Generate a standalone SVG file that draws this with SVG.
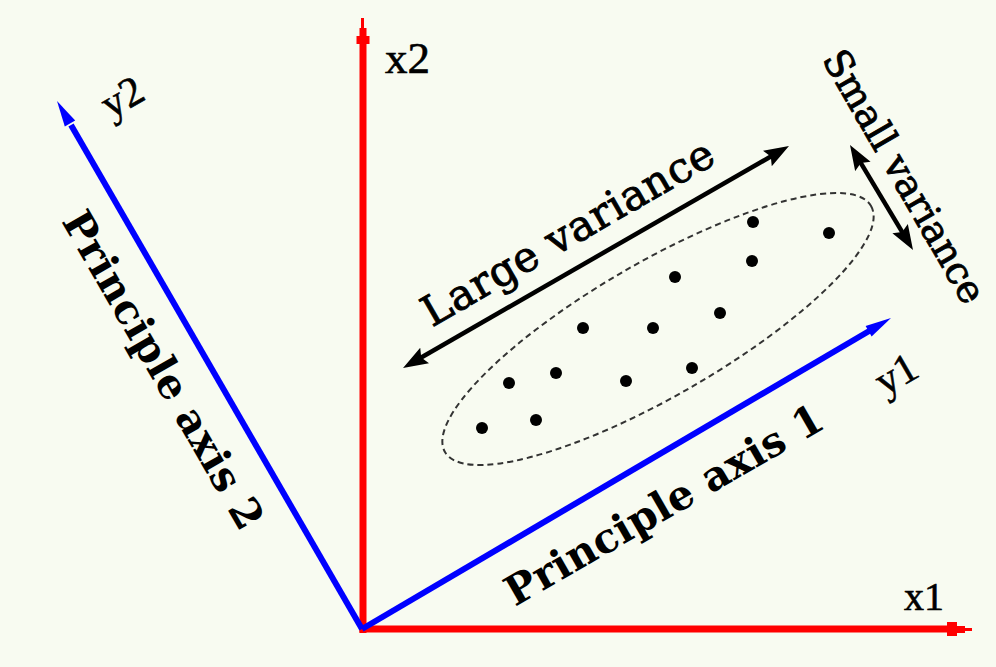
<svg xmlns="http://www.w3.org/2000/svg" width="996" height="667" viewBox="0 0 996 667">
<style>
.axlbl{font-family:"Liberation Serif","Times New Roman",serif;fill:#000;stroke:#000;stroke-width:0.6}
.lbl{font-family:"DejaVu Serif","Liberation Serif",serif;fill:#000}
.reg{stroke:#000;stroke-width:0.9}
.bold{font-weight:bold}
.red{fill:#ff0000}
.blue{fill:#0000ff}
.dot{fill:#000}
</style>
<defs>
<marker id="ah" markerUnits="userSpaceOnUse" markerWidth="26" markerHeight="20" refX="12" refY="9" orient="auto-start-reverse" viewBox="0 0 26 18">
<path d="M0,0 L25,9 L0,18 L4,9 z" fill="#000"/>
</marker>
</defs>
<rect x="0" y="0" width="996" height="667" fill="#f8fbf1"/>

<g id="axis-x2">
<rect class="red" x="359.5" y="44" width="7" height="589"/>
<polygon class="red" points="361,18 364,18 364,28 366.5,28 366.5,36 369.5,36 369.5,44 356.5,44 356.5,36 359.5,36 359.5,28 361,28"/>
<text class="axlbl" x="385" y="73" font-size="45">x2</text>
</g>

<g id="axis-x1">
<rect class="red" x="359.5" y="625.5" width="588" height="7"/>
<polygon class="red" points="947,622 957,622 957,626 965,626 965,628 972,628 972,631 965,631 965,633 957,633 957,636 947,636"/>
<text class="axlbl" x="904" y="610" font-size="40">x1</text>
</g>

<g id="axis-y2">
<line x1="362" y1="629" x2="71" y2="125" stroke="#0000ff" stroke-width="6"/>
<polygon class="blue" points="57,101 75.2,120.5 64.8,126.5"/>
<text class="axlbl" font-size="42" text-anchor="middle" transform="translate(129,109) rotate(-30)">y2</text>
</g>

<g id="axis-y1">
<line x1="362" y1="629" x2="870" y2="330.5" stroke="#0000ff" stroke-width="6"/>
<polygon class="blue" points="891,318 871.6,336.4 865.6,326"/>
<text class="axlbl" font-size="42" text-anchor="middle" transform="translate(903,386) rotate(-30)">y1</text>
</g>

<g id="label-pa2">
<text class="lbl bold" font-size="41" text-anchor="middle" textLength="360" transform="translate(151,377) rotate(60)">Principle axis 2</text>
</g>

<g id="label-pa1">
<text class="lbl bold" font-size="41" text-anchor="middle" textLength="360" transform="translate(671,517) rotate(-30)">Principle axis 1</text>
</g>

<g id="cluster">
<ellipse cx="658" cy="329" rx="246" ry="67" transform="rotate(-30 658 329)" fill="none" stroke="#333" stroke-width="2" stroke-dasharray="6 4"/>
<circle class="dot" cx="753" cy="222" r="6"/>
<circle class="dot" cx="829" cy="233" r="6"/>
<circle class="dot" cx="752" cy="261" r="6"/>
<circle class="dot" cx="675" cy="277" r="6"/>
<circle class="dot" cx="720" cy="313" r="6"/>
<circle class="dot" cx="583" cy="328" r="6"/>
<circle class="dot" cx="653" cy="328" r="6"/>
<circle class="dot" cx="509" cy="383" r="6"/>
<circle class="dot" cx="556" cy="373" r="6"/>
<circle class="dot" cx="626" cy="381" r="6"/>
<circle class="dot" cx="692" cy="368" r="6"/>
<circle class="dot" cx="482" cy="428" r="6"/>
<circle class="dot" cx="536" cy="420" r="6"/>
</g>

<g id="connectors">
<line x1="414.3" y1="361.5" x2="777.7" y2="152.5" stroke="#000" stroke-width="4.5" marker-start="url(#ah)" marker-end="url(#ah)"/>
<line x1="856.7" y1="156.2" x2="906.3" y2="238.8" stroke="#000" stroke-width="4.5" marker-start="url(#ah)" marker-end="url(#ah)"/>
</g>

<g id="label-large">
<text class="lbl reg" font-size="42" text-anchor="middle" textLength="330" transform="translate(575,245) rotate(-30)">Large variance</text>
</g>

<g id="label-small">
<text class="lbl reg" font-size="38" text-anchor="middle" textLength="286" transform="translate(893,183) rotate(60)">Small variance</text>
</g>
</svg>
